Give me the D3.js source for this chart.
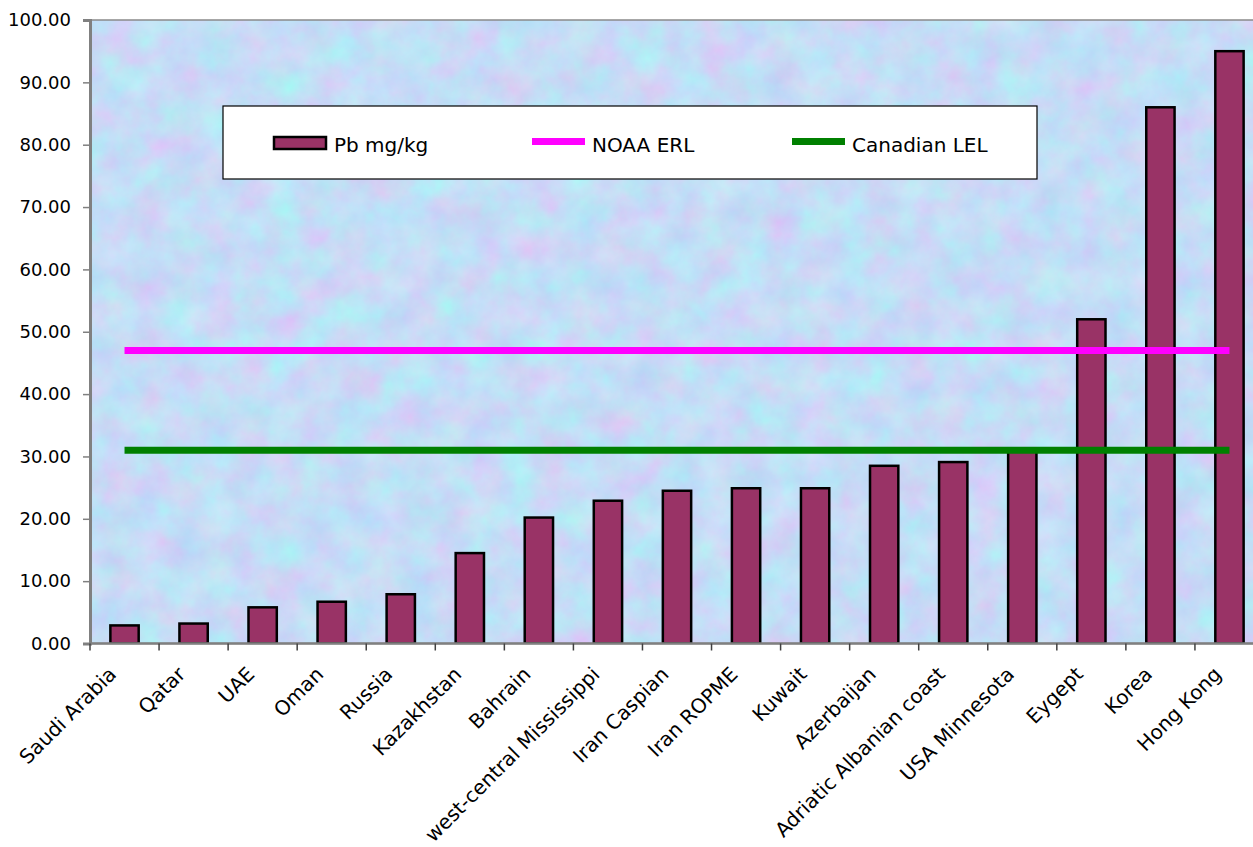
<!DOCTYPE html>
<html>
<head>
<meta charset="utf-8">
<script src="https://cdn.jsdelivr.net/npm/d3@7"></script>
<style>
  html, body { margin: 0; padding: 0; background: #ffffff; overflow: hidden; }
  svg { display: block; }
  text { font-family: "DejaVu Sans", sans-serif; fill: #000; }
</style>
</head>
<body>
<svg id="chart" width="1253" height="847"></svg>
<script>
// Lead (Pb) in sediments by location, mg/kg
const categories = ["Saudi Arabia", "Qatar", "UAE", "Oman", "Russia", "Kazakhstan", "Bahrain",
  "west-central Mississippi", "Iran Caspian", "Iran ROPME", "Kuwait", "Azerbaijan",
  "Adriatic Albanian coast", "USA Minnesota", "Eygept", "Korea", "Hong Kong"];
const pbValues = [2.9, 3.2, 5.8, 6.7, 7.9, 14.5, 20.2, 22.9, 24.5, 24.9, 24.9, 28.5, 29.1, 31.0, 52.0, 86.0, 95.0];
// Sediment quality guidelines
const noaaErl = categories.map(() => 47.0);
const canadianLel = categories.map(() => 31.0);
const yTicks = [0, 10, 20, 30, 40, 50, 60, 70, 80, 90, 100];
const legendItems = ["Pb mg/kg", "NOAA ERL", "Canadian LEL"];

const svg = d3.select("#chart");
const plot = { left: 90, right: 1264, top: 20, bottom: 643.5 };

const x = d3.scaleBand().domain(categories).range([plot.left, plot.right]).padding(0);
const y = d3.scaleLinear().domain([0, 100]).range([plot.bottom, plot.top]);

// textured pastel plot background
const defs = svg.append("defs");
const filt = defs.append("filter").attr("id", "paper")
  .attr("x", 0).attr("y", 0).attr("width", 1).attr("height", 1)
  .attr("filterUnits", "objectBoundingBox")
  .attr("color-interpolation-filters", "sRGB");
filt.append("feTurbulence").attr("type", "fractalNoise")
  .attr("baseFrequency", "0.03").attr("numOctaves", 5).attr("seed", 11).attr("result", "n");
filt.append("feColorMatrix").attr("in", "n").attr("type", "matrix")
  .attr("values", [
    0.22, -0.08, 0, 0, 0.70,
    -0.10, 0.18, 0, 0, 0.825,
    0, 0, 0.05, 0, 0.94,
    0, 0, 0, 0, 1
  ].join(" "));
defs.append("clipPath").attr("id", "plotclip").append("rect")
  .attr("x", plot.left).attr("y", plot.top)
  .attr("width", plot.right - plot.left).attr("height", plot.bottom - plot.top);

svg.append("rect")
  .attr("x", plot.left).attr("y", plot.top)
  .attr("width", plot.right - plot.left).attr("height", plot.bottom - plot.top)
  .attr("fill", "#cfdcf6")
  .attr("filter", "url(#paper)");
svg.append("rect")
  .attr("x", plot.left).attr("y", plot.top)
  .attr("width", plot.right - plot.left).attr("height", plot.bottom - plot.top)
  .attr("fill", "none").attr("stroke", "#8a8a8a").attr("stroke-width", 1.5);

// bars
const barW = x.bandwidth() * 0.41;
svg.append("g").attr("clip-path", "url(#plotclip)")
  .selectAll("rect").data(categories).join("rect")
  .attr("x", d => x(d) + x.bandwidth() / 2 - barW / 2)
  .attr("y", (d, i) => y(pbValues[i]))
  .attr("width", barW)
  .attr("height", (d, i) => y(0) - y(pbValues[i]))
  .attr("fill", "#993366")
  .attr("stroke", "#000").attr("stroke-width", 2.5);

// guideline series
const line = d3.line()
  .x((d, i) => x(categories[i]) + x.bandwidth() / 2)
  .y(d => y(d));
svg.append("path").datum(noaaErl).attr("d", line)
  .attr("fill", "none").attr("stroke", "#ff00ff").attr("stroke-width", 7);
svg.append("path").datum(canadianLel).attr("d", line)
  .attr("fill", "none").attr("stroke", "#008000").attr("stroke-width", 7);

// y axis
const yAxis = svg.append("g").attr("transform", `translate(${plot.left},0)`)
  .call(d3.axisLeft(y).tickValues(yTicks).tickFormat(d3.format(".2f")).tickSize(7).tickPadding(12));
yAxis.select(".domain").attr("stroke", "#808080").attr("stroke-width", 3);
yAxis.selectAll(".tick line").attr("stroke", "#808080").attr("stroke-width", 1.5);
yAxis.selectAll(".tick text").attr("font-size", 18).attr("font-family", "DejaVu Sans").attr("fill", "#000");

// x axis
const xAxis = svg.append("g").attr("transform", `translate(0,${plot.bottom})`);
xAxis.append("line").attr("x1", plot.left).attr("x2", plot.right)
  .attr("y1", 0).attr("y2", 0).attr("stroke", "#808080").attr("stroke-width", 2.5);
const boundaries = d3.range(categories.length + 1).map(i => plot.left + i * x.bandwidth());
xAxis.selectAll("line.tk").data(boundaries).join("line").attr("class", "tk")
  .attr("x1", d => d).attr("x2", d => d).attr("y1", 0).attr("y2", 7)
  .attr("stroke", "#404040").attr("stroke-width", 1.5);
xAxis.selectAll("text").data(categories).join("text")
  .attr("transform", d => `translate(${x(d) + x.bandwidth() / 2 - 7},${32}) rotate(-45)`)
  .attr("text-anchor", "end")
  .attr("font-size", 20)
  .text(d => d);

// legend
const lg = svg.append("g");
lg.append("rect").attr("x", 223).attr("y", 106).attr("width", 814).attr("height", 73)
  .attr("fill", "#fff").attr("stroke", "#000").attr("stroke-width", 1.2);
const itemX = [274, 532, 792];
lg.append("rect").attr("x", itemX[0]).attr("y", 137).attr("width", 52).attr("height", 12)
  .attr("fill", "#993366").attr("stroke", "#000").attr("stroke-width", 2.5);
lg.append("line").attr("x1", itemX[1]).attr("x2", itemX[1] + 53).attr("y1", 141.5).attr("y2", 141.5)
  .attr("stroke", "#ff00ff").attr("stroke-width", 7);
lg.append("line").attr("x1", itemX[2]).attr("x2", itemX[2] + 53).attr("y1", 141.5).attr("y2", 141.5)
  .attr("stroke", "#008000").attr("stroke-width", 7);
lg.selectAll("text.lt").data(legendItems).join("text").attr("class", "lt")
  .attr("x", (d, i) => itemX[i] + 60).attr("y", 152)
  .attr("font-size", 20)
  .text(d => d);
</script>
</body>
</html>
